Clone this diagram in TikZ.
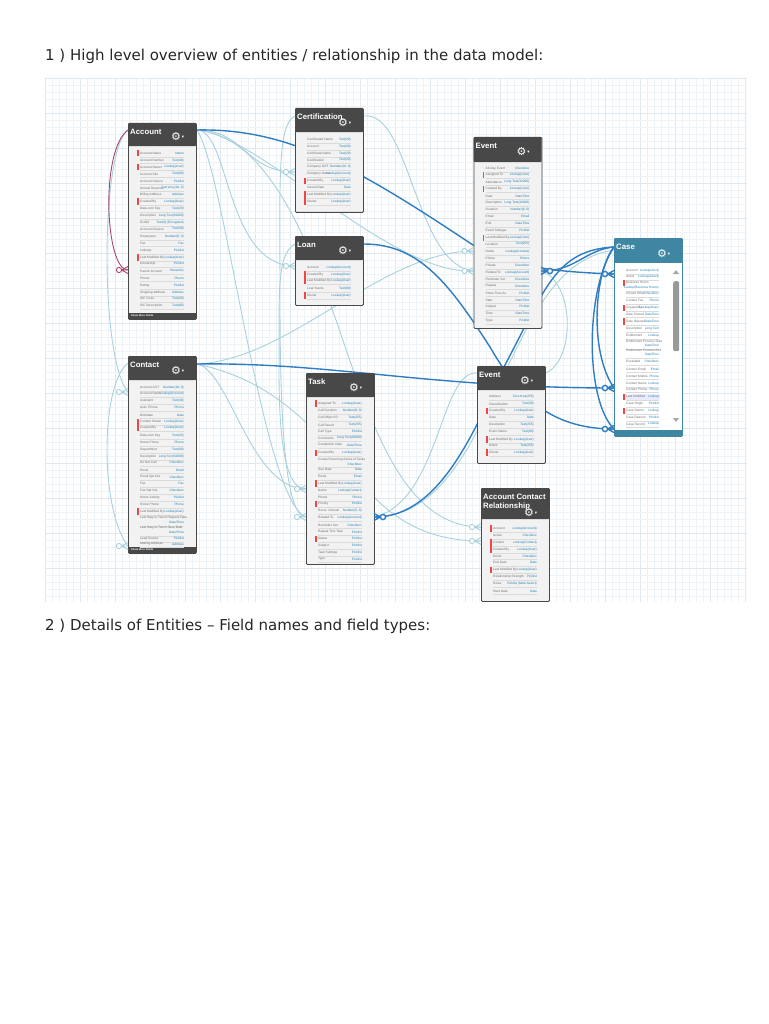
\documentclass[tikz,border=0pt]{standalone}
\usepackage{fontspec}
\setmainfont{Liberation Sans}
\newfontfamily\pagefont{DejaVu Sans}
\usetikzlibrary{backgrounds}
\definecolor{headdark}{HTML}{484848}
\definecolor{headteal}{HTML}{3F86A3}
\definecolor{cardfill}{HTML}{F2F2F2}
\definecolor{gridminor}{HTML}{EEF3F7}
\definecolor{gridmajor}{HTML}{DFE8EF}
\definecolor{mainblue}{HTML}{2F7CC0}
\definecolor{paleblue}{HTML}{A8D1DD}
\definecolor{selfred}{HTML}{A6466E}
\definecolor{fieldgrey}{HTML}{6E6E6E}
\definecolor{typeblue}{HTML}{1F80B5}
\definecolor{reqred}{HTML}{F24444}
\tikzset{
  crow/.pic={\draw[fill=white] (0,0) circle (2.6pt); \draw (2.6,0) -- (9,0) (2.6,0) -- (9,-3.5) (2.6,0) -- (9,3.5);},
  card/.style={draw=#1, line width=0.8pt, fill=cardfill, rounded corners=1pt, minimum width=68pt, anchor=north west, inner sep=0pt},
  headbar/.style={fill=#1, rounded corners=1pt, minimum width=68pt, anchor=north west, inner sep=0pt},
  headtext/.style={text=white, font=\fontsize{7.8}{9}\selectfont\bfseries, align=left, anchor=north west, inner sep=1pt},
  mainlink/.style={draw=mainblue, line width=1.4pt},
  sublink/.style={draw=paleblue, line width=0.9pt},
  redlink/.style={draw=selfred, line width=0.9pt},
  fieldname/.style={text=fieldgrey, font=\fontsize{3.2}{3.4}\selectfont, anchor=west, inner sep=0pt},
  fieldtype/.style={text=typeblue, font=\fontsize{3.2}{3.4}\selectfont, anchor=east, align=right, inner sep=0pt},
  pagetext/.style={font=\pagefont\fontsize{15}{17}\selectfont, text=black!85, anchor=base west, inner sep=0pt}
}
% name, x, y, height, header height, gear y, title
\newcommand{\entity}[8][headdark]{
  \node[card=#1, minimum height=#5pt] (#2) at (#3,#4) {};
  \node[headbar=#1, minimum height=#6pt] (#2-head) at (#3,#4) {};
  \node[headtext] (#2-title) at (#3+1,#4+5) {#8};
  \node[text=white, font=\pagefont\fontsize{11}{12}\selectfont, inner sep=0pt] (#2-gear) at (#3+48,#4+#7) {\char"2699};
  \node[text=white, font=\pagefont\fontsize{4.5}{5}\selectfont, inner sep=0pt] (#2-menu) at (#3+55,#4+#7) {\char"25BE};
}
% name, x, value offset, rows label/type/y/flag (odd = red bar, 2 and up = no rule)
\newcommand{\fieldrows}[4]{
  \foreach \lab/\typ/\yy/\isreq [count=\i] in {#4}{
    \ifnum\isreq<2 \draw[black!14, line width=0.25pt] (#2+12,\yy+3.4) -- (#2+#3,\yy+3.4); \fi
    \node[fieldname] (#1-f\i) at (#2+12,\yy) {\lab};
    \node[fieldtype] (#1-t\i) at (#2+#3,\yy) {\typ};
    \ifodd\isreq \fill[reqred] (#2+9,\yy-3.2) rectangle (#2+10.7,\yy+3.2); \fi
  }
}
\begin{document}
\begin{tikzpicture}[x=1pt,y=-1pt]
\useasboundingbox (0,0) rectangle (768,1024);
\node[pagetext] (heading1) at (45,60.5) {1 ) High level overview of entities / relationship in the data model:};
\node[pagetext] (heading2) at (45,630) {2 ) Details of Entities – Field names and field types:};

\entity{account}{128}{123}{196}{23}{14}{Account}
\entity{certification}{295}{108}{104}{24}{15}{Certification}
\entity{loan}{295}{236}{69}{24}{15}{Loan}
\entity{eventa}{473.5}{137}{191}{25}{15}{Event}
\entity[headteal]{caseobj}{614}{238}{198}{25}{16}{Case}
\entity{contact}{128}{356}{197}{24}{15}{Contact}
\entity{task}{306}{373}{191}{24}{15}{Task}
\entity{eventb}{477}{366}{97}{24}{15}{Event}
\entity{acr}{481}{488}{113}{31}{25}{Account Contact\\Relationship}

\node[fill=white, minimum width=67pt, minimum height=167pt, anchor=north west, inner sep=0pt] (caseobj-body) at (614.5,263) {};
\node[fill=headteal, minimum width=68pt, minimum height=6pt, anchor=north west, inner sep=0pt] (caseobj-strip) at (614,430) {};
\node[fill=black!40, rounded corners=2pt, minimum width=6pt, minimum height=70pt, anchor=north west, inner sep=0pt] (caseobj-scroll) at (673,281) {};
\coordinate (caseobj-up) at (676,272);
\fill[black!35] (caseobj-up) +(-3,2) -- +(3,2) -- +(0,-2) -- cycle;
\coordinate (caseobj-down) at (676,420);
\fill[black!35] (caseobj-down) +(-3,-2) -- +(3,-2) -- +(0,2) -- cycle;
\node[fill=blue!8, minimum width=36pt, minimum height=6pt, anchor=west, inner sep=0pt] (caseobj-hl) at (624,396.7) {};

\foreach \ent/\ex/\ey in {account/128/313,contact/128/547}{
  \node[fill=headdark, minimum width=68pt, minimum height=6pt, anchor=north west, inner sep=0pt] (\ent-strip) at (\ex,\ey) {};
  \node[text=white, font=\fontsize{2.6}{3}\selectfont\bfseries, anchor=west, inner sep=0pt] (\ent-more) at (\ex+3,\ey+3) {Show More Fields};
}

\fieldrows{account}{128}{56}{
  Account Name/Name/153.3/1, Account Number/Text(40)/160.2/0, Account Owner/Lookup(User)/167/1,
  Account Site/Text(80)/174/0, Account Source/Picklist/181/0, Annual Revenue/{Currency(18, 0)}/188/0,
  Billing Address/Address/194.7/0, Created By/Lookup(User)/201.5/1, Data.com Key/Text(20)/208.8/0,
  Description/Long Text(32000)/215.7/0, DUNS/Text(9) (Encrypted)/222.7/0, Account Division/Text(30)/229/0,
  Employees/{Number(8, 0)}/236.3/0, Fax/Fax/243/0, Industry/Picklist/250.3/0,
  Last Modified By/Lookup(User)/257.3/1, Ownership/Picklist/263.5/0, Parent Account/Hierarchy/271/0,
  Phone/Phone/278/0, Rating/Picklist/285.3/0, Shipping Address/Address/292.3/0,
  SIC Code/Text(20)/298.5/0, SIC Description/Text(80)/305.7/0}
\fieldrows{certification}{295}{56}{
  Certificated Name/Text(20)/139.3/0, Account/Text(20)/146.3/0, Certificate Name/Text(20)/153.3/0,
  Certification/Text(20)/160/0, Company GST/{Number(18, 0)}/167/0, Company Name/Lookup(Account)/174/0,
  Created By/Lookup(User)/181/1, Issued Date/Date/187.7/0, Last Modified By/Lookup(User)/194.7/1,
  Owner/Lookup(User)/201.7/1}
\fieldrows{loan}{295}{56}{
  Account/Lookup(Account)/267.7/0, Created By/Lookup(User)/274.3/1, Last Modified By/Lookup(User)/281/1,
  Loan Name/Text(80)/288.3/0, Owner/Lookup(User)/295.3/1}
\fieldrows{eventa}{473.5}{56}{
  All-Day Event/Checkbox/168.3/0, Assigned To/Lookup(User)/175/1, Attendance/Long Text(32000)/182/0,
  Created By/Lookup(User)/189/1, Date/DateTime/196/0, Description/Long Text(32000)/203/0,
  Duration/{Number(8, 0)}/209.7/0, Email/Email/216.7/0, End/DateTime/223.7/0, Event Subtype/Picklist/230.7/0,
  Last Modified By/Lookup(User)/237.7/1, Location/Text(255)/244/0, Name/Lookup(Contact)/251.3/0,
  Phone/Phone/258.3/0, Private/Checkbox/265.3/0, Related To/Lookup(Account)/272.3/0, Reminder Set/Checkbox/279/0,
  Repeat/Checkbox/286/0, Show Time As/Picklist/293/0, Start/DateTime/300/0, Subject/Picklist/306.7/0,
  Time/DateTime/313/0, Type/Picklist/320.3/0}
\fieldrows{caseobj}{614}{45}{
  Account/Lookup(Acct)/270.3/0, Asset/Lookup(Asset)/276.3/0, Business Hours//282.8/3, /Lookup(Business Hours)/287.3/0,
  Closed When/Checkbox/293.7/0, Contact Fax/Phone/300.3/0, Created By/Lookup(User)/307.7/1,
  Date Closed/DateTime/314/0, Date Opened/DateTime/321.3/1, Description/Long Text/328.7/0,
  Entitlement/Lookup/335.3/0, Entitlement Process Start//341/2, /DateTime/345.3/0, Entitlement Process End//350/2, /DateTime/354.5/0,
  Escalated/Checkbox/361.7/0, Contact Email/Email/369/0, Contact Mobile/Phone/376/0, Contact Name/Lookup/383.3/0,
  Contact Phone/Phone/389/0, Last Modified/Lookup/396.7/1, Case Origin/Picklist/403.7/0, Case Owner/Lookup/410.7/1,
  Case Reason/Picklist/417.7/0, Case Record/Lookup/424/0}
\fieldrows{contact}{128}{56}{
  Account GST/{Number(18, 0)}/387.3/0, Account Name/Lookup(Account)/393.7/0, Assistant/Text(40)/400.7/0,
  Asst. Phone/Phone/407.3/0, Birthdate/Date/415/0, Contact Owner/Lookup(User)/421.7/1, Created By/Lookup(User)/427.7/1,
  Data.com Key/Text(20)/435.3/0, Home Phone/Phone/442.3/0, Department/Text(80)/449.3/0, Description/Long Text(32000)/456.3/0,
  Do Not Call/Checkbox/462.7/0, Email/Email/470/0, Email Opt Out/Checkbox/477/0, Fax/Fax/483.3/0, Fax Opt Out/Checkbox/490.3/0,
  Home Activity/Picklist/497.3/0, Home Phone/Phone/504.3/0, Last Modified By/Lookup(User)/511.3/1,
  Last Stay-in-Touch Request Date//518/2, /{Date/Time}/522.3/0, Last Stay-in-Touch Save Date//528/2, /{Date/Time}/532.3/0,
  Lead Source/Picklist/538.5/0, Mailing Address/Address/544/0}
\fieldrows{task}{306}{56}{
  Assigned To/Lookup(User)/403.3/1, Call Duration/{Number(8, 0)}/410.7/0, Call Object ID/Text(255)/417.7/0,
  Call Result/Text(255)/425/0, Call Type/Picklist/431.3/0, Comments/Long Text(32000)/438/0, Completion Date/{Date/Time}/445/0,
  Created By/Lookup(User)/452.7/1, Create Recurring Series of Tasks//459.8/2, /Checkbox/464/0, Due Date/Date/469.7/0, Email/Email/476.3/0,
  Last Modified By/Lookup(User)/483.3/1, Name/Lookup(Contact)/490.3/0, Phone/Phone/497.3/0, Priority/Picklist/503.7/1,
  Recur. Interval/{Number(5, 0)}/510.3/0, Related To/Lookup(Account)/517.3/0, Reminder Set/Checkbox/525/0,
  Repeat This Task/Picklist/532/0, Status/Picklist/538.7/1, Subject/Picklist/545.7/0, Task Subtype/Picklist/552.3/0, Type/Picklist/559/0}
\fieldrows{eventb}{477}{57}{
  Address/Text Area(255)/396.7/0, Classification/Text(30)/404/0, Created By/Lookup(User)/410.7/1, Date/Date/417.7/0,
  Description/Text(255)/424.7/0, Event Name/Text(80)/431.7/0, Last Modified By/Lookup(User)/439.3/1, Notes/Text(255)/445.7/0,
  Owner/Lookup(User)/452.3/1}
\fieldrows{acr}{481}{56}{
  Account/Lookup(Account)/528.3/1, Active/Checkbox/535.3/0, Contact/Lookup(Contact)/542.3/1, Created By/Lookup(User)/549.3/1,
  Direct/Checkbox/556/0, End Date/Date/562.3/0, Last Modified By/Lookup(User)/570/1, Relationship Strength/Picklist/576.7/0,
  Roles/Picklist (Multi-Select)/583.3/0, Start Date/Date/591/0}

\begin{scope}[on background layer]
\foreach \gx [count=\i from 0] in {45,52,...,745}{
  \ifnum\numexpr\i-5*(\i/5)\relax=0 \draw[gridmajor, line width=0.5pt] (\gx,78) -- (\gx,602);
  \else \draw[gridminor, line width=0.5pt] (\gx,78) -- (\gx,602); \fi
}
\foreach \gy [count=\i from 0] in {78,85,...,600}{
  \ifnum\numexpr\i-5*(\i/5)\relax=0 \draw[gridmajor, line width=0.5pt] (45,\gy) -- (747,\gy);
  \else \draw[gridminor, line width=0.5pt] (45,\gy) -- (747,\gy); \fi
}
% pale links
\draw[sublink] (account.west |- 0,130) .. controls (100,150) and (100,360) .. (contact.west |- 0,392);
\draw[sublink] (contact.west |- 0,363) .. controls (100,385) and (100,510) .. (contact.west |- 0,546);
\draw[sublink] (account.east |- 0,130) .. controls (245,130) and (245,172) .. (certification.west |- 0,172);
\draw[sublink] (account.east |- 0,130) .. controls (230,130) and (225,266) .. (loan.west |- 0,266);
\draw[sublink] (account.east |- 0,130) .. controls (225,170) and (262,500) .. (task.west |- 0,517);
\draw[sublink] (account.east |- 0,130) .. controls (260,135) and (390,275) .. (eventa.west |- 0,271);
\draw[sublink] (account.east |- 0,130) .. controls (260,135) and (300,220) .. (330,303) .. controls (365,400) and (395,527) .. (acr.west |- 0,527);
\draw[sublink] (certification.east |- 0,116) .. controls (410,110) and (415,265) .. (eventa.west |- 0,271);
\draw[sublink] (certification.west |- 0,116) .. controls (277,125) and (280,180) .. (280,300) .. controls (280,420) and (285,517) .. (task.west |- 0,517);
\draw[sublink] (loan.west |- 0,244) .. controls (275,255) and (280,300) .. (279,370) .. controls (279,440) and (285,489) .. (task.west |- 0,489);
\draw[sublink] (contact.east |- 0,364) .. controls (230,370) and (250,489) .. (task.west |- 0,489);
\draw[sublink] (contact.east |- 0,364) .. controls (270,380) and (310,420) .. (370,493) .. controls (400,525) and (435,541) .. (acr.west |- 0,541);
\draw[sublink] (contact.east |- 0,364) .. controls (290,360) and (380,252) .. (eventa.west |- 0,251);
\draw[sublink] (eventb.east |- 0,373) .. controls (575,360) and (575,285) .. (eventa.east |- 0,271);
\draw[sublink] (eventb.west |- 0,373) .. controls (440,370) and (440,500) .. (task.east |- 0,517);
\draw[sublink] (caseobj.west |- 0,250) .. controls (560,258) and (535,310) .. (505,372) .. controls (475,440) and (440,517) .. (task.east |- 0,517);
\draw[redlink] (account.west |- 0,130) .. controls (100,150) and (105,270) .. (account.west |- 0,270);
% main links
\draw[mainlink] (account.east |- 0,130) .. controls (290,128) and (360,170) .. (473,245) .. controls (510,268) and (560,272) .. (caseobj.west |- 0,274);
\draw[mainlink] (loan.east |- 0,244) .. controls (420,244) and (450,285) .. (490,347) .. controls (515,390) and (545,429) .. (caseobj.west |- 0,429);
\draw[mainlink] (contact.east |- 0,364) .. controls (330,362) and (430,388) .. (caseobj.west |- 0,388);
\draw[mainlink] (caseobj.west |- 0,247) .. controls (555,250) and (545,290) .. (505,365) .. controls (475,430) and (440,517) .. (task.east |- 0,517);
\draw[mainlink] (caseobj.west |- 0,247) .. controls (585,250) and (575,271) .. (eventa.east |- 0,271);
\draw[mainlink] (caseobj.west |- 0,247) .. controls (595,270) and (588,350) .. (caseobj.west |- 0,388);
\draw[mainlink] (caseobj.west |- 0,247) .. controls (585,290) and (585,400) .. (caseobj.west |- 0,429);
\end{scope}

\foreach \cx/\cy/\cstyle/\cside in {
  286/172/sublink/1, 286/266/sublink/1, 119/392/sublink/1, 119/546/sublink/1,
  297/489/sublink/1, 297/517/sublink/1, 464.5/251/sublink/1, 464.5/271/sublink/1,
  472/527/sublink/1, 472/541/sublink/1, 119/270/redlink/1,
  605/274/mainlink/1, 605/388/mainlink/1, 605/429/mainlink/1,
  550/271/mainlink/-1, 383/517/mainlink/-1}{
  \path (\cx,\cy) pic[\cstyle, xscale=\cside] {crow};
}
\end{tikzpicture}
\end{document}
